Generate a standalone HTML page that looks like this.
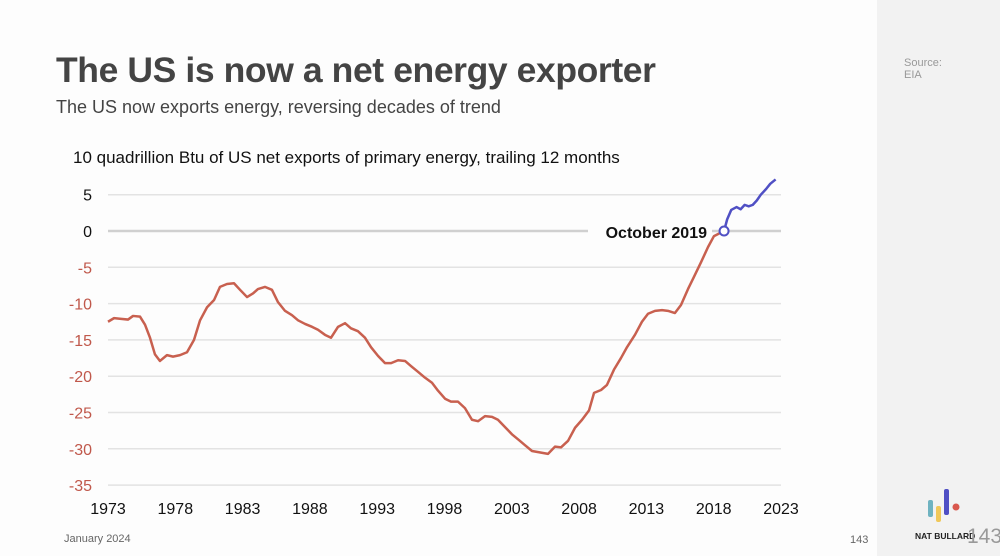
<!DOCTYPE html>
<html><head><meta charset="utf-8"><style>
body{margin:0;width:1000px;height:556px;overflow:hidden;background:#fdfdfd;font-family:"Liberation Sans",sans-serif;position:relative}
.abs{position:absolute;margin:0}
</style></head><body>
<div class="abs" style="left:877px;top:0;width:123px;height:556px;background:#f2f2f2"></div>
<h1 class="abs" style="left:56px;top:50px;font-size:35.5px;font-weight:bold;color:#444;letter-spacing:-0.4px">The US is now a net energy exporter</h1>
<div class="abs" style="left:56px;top:97px;font-size:18px;color:#444">The US now exports energy, reversing decades of trend</div>
<div class="abs" style="left:904px;top:57px;font-size:11px;color:#999;line-height:12px">Source:<br>EIA</div>
<div class="abs" style="left:64px;top:533px;font-size:11px;color:#666">January 2024</div>
<div class="abs" style="left:850px;top:534px;font-size:11px;color:#666">143</div>
<svg class="abs" style="left:920px;top:485px" width="50" height="40">
<rect x="8" y="15" width="5" height="17" rx="2" fill="#6fb3c1"/><rect x="16" y="21" width="5" height="16" rx="2" fill="#f0c85a"/><rect x="24" y="4" width="5" height="26" rx="2" fill="#4f4fc4"/><circle cx="36" cy="22" r="3.5" fill="#d9584e"/></svg>
<div class="abs" style="left:915px;top:531px;font-size:8.5px;font-weight:bold;color:#222">NAT BULLARD</div>
<div class="abs" style="left:967px;top:525px;font-size:21px;color:#999">143</div>
<svg id="chart" class="abs" style="left:0;top:0" width="877" height="556"></svg>
<script>
const redYearOffsets=[0,.45,.97,1.49,1.86,2.38,2.75,3.12,3.49,3.86,4.38,4.83,5.35,5.87,6.39,6.84,7.36,7.88,8.32,8.84,9.36,9.81,10.33,10.77,11.14,11.66,12.18,12.63,13.15,13.67,14.12,14.64,15.16,15.6,16.12,16.57,17.09,17.61,18.05,18.57,19.09,19.54,20.06,20.58,21.03,21.55,22.07,22.51,23.03,23.55,24.07,24.52,25.04,25.48,26,26.52,27.04,27.49,28.01,28.53,28.97,29.49,30.01,30.53,30.98,31.5,32.69,33.21,33.66,34.18,34.7,35.22,35.74,36.11,36.63,37.07,37.59,38.11,38.56,39.15,39.67,40.12,40.64,41.16,41.6,42.12,42.57,43.09,43.54,44.06,44.58,45.02,45.77];
const redValues=[-12.5,-12,-12.1,-12.2,-11.7,-11.8,-12.9,-14.7,-17,-17.9,-17.1,-17.3,-17.1,-16.7,-15,-12.3,-10.5,-9.5,-7.7,-7.3,-7.2,-8.1,-9.1,-8.6,-8,-7.7,-8.1,-9.8,-11,-11.6,-12.3,-12.8,-13.2,-13.6,-14.3,-14.7,-13.2,-12.7,-13.4,-13.8,-14.7,-16,-17.2,-18.2,-18.2,-17.8,-17.9,-18.6,-19.4,-20.2,-20.9,-22,-23.1,-23.5,-23.5,-24.4,-26,-26.2,-25.5,-25.6,-26,-27,-28,-28.8,-29.5,-30.3,-30.7,-29.7,-29.8,-28.9,-27.1,-26,-24.7,-22.3,-21.9,-21.2,-19.1,-17.5,-16,-14.3,-12.5,-11.4,-11,-10.9,-11,-11.3,-10.2,-8,-6.3,-4.3,-2.2,-0.7,0];
const blueYears=[2018.77,2019.0,2019.3,2019.7,2020.0,2020.3,2020.6,2020.9,2021.2,2021.5,2021.9,2022.2,2022.6];
const blueValues=[0,1.6,2.9,3.3,3.0,3.6,3.4,3.6,4.2,5.0,5.8,6.5,7.1];
const yTicks=[5,0,-5,-10,-15,-20,-25,-30,-35];
const xTicks=[1973,1978,1983,1988,1993,1998,2003,2008,2013,2018,2023];
const svg=document.getElementById('chart');const NS='http://www.w3.org/2000/svg';
const X=y=>108+(y-1973)*(781-108)/50;
const Y=v=>231-v*7.26;
function mk(t,a){const e=document.createElementNS(NS,t);for(const k in a)e.setAttribute(k,a[k]);svg.appendChild(e);return e;}
const ct=mk('text',{x:73,y:163,'font-size':17,fill:'#111'});ct.textContent='10 quadrillion Btu of US net exports of primary energy, trailing 12 months';

yTicks.forEach(v=>{
 const l=mk('line',{x1:108,x2:781,y1:Y(v),y2:Y(v),stroke:v===0?'#d0d0d0':'#e3e3e3','stroke-width':v===0?2.5:1.5});
 
 const t=mk('text',{x:92,y:Y(v)+6,'font-size':16,'text-anchor':'end',fill:v<0?'#c0584b':'#111'});t.textContent=v;
 
});
xTicks.forEach(y=>{const t=mk('text',{x:X(y),y:514,'font-size':16,'text-anchor':'middle',fill:'#111'});t.textContent=y;
 });
const bg=mk('rect',{x:588,y:220,width:124,height:22,fill:'#fdfdfd'});

const an=mk('text',{x:707,y:238,'font-size':16,'font-weight':'bold','text-anchor':'end',fill:'#111'});an.textContent='October 2019';

const rp=redValues.map((v,i)=>X(1973+redYearOffsets[i])+','+Y(v)).join(' ');
const r=mk('polyline',{points:rp,fill:'none',stroke:'#c8604f','stroke-width':2.5,'stroke-linejoin':'round'});

const bp=blueYears.map((y,i)=>X(y)+','+Y(blueValues[i])).join(' ');
const b=mk('polyline',{points:bp,fill:'none',stroke:'#5050c4','stroke-width':2.5,'stroke-linejoin':'round'});

const c=mk('circle',{cx:X(blueYears[0]),cy:Y(blueValues[0]),r:4.5,fill:'#fff',stroke:'#5050c4','stroke-width':2});

</script>
</body></html>
